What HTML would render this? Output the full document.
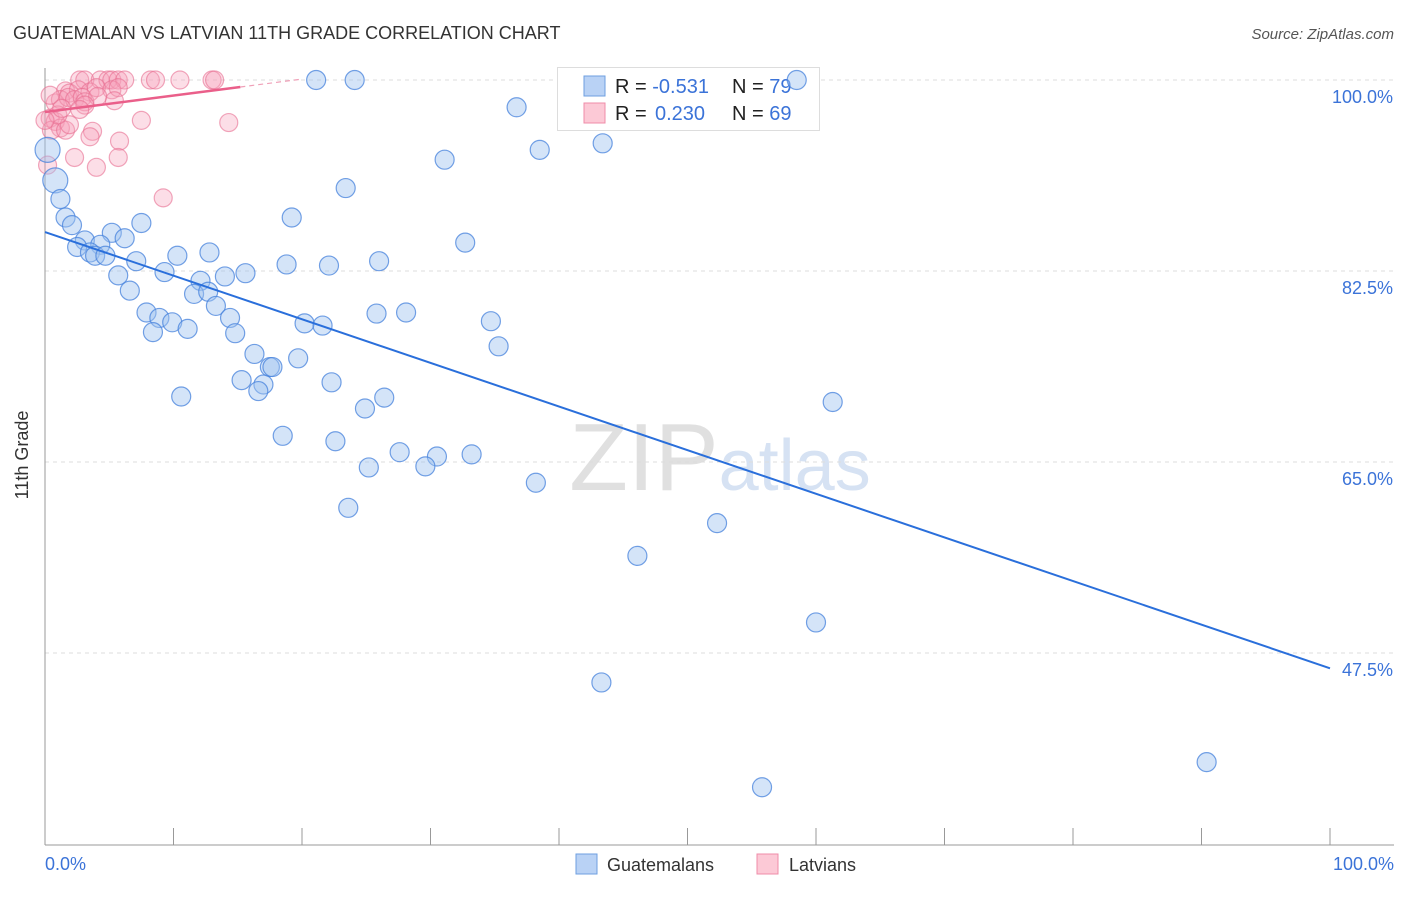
<!DOCTYPE html>
<html><head><meta charset="utf-8"><style>
body{margin:0;background:#fff;font-family:"Liberation Sans",sans-serif}
svg text{font-family:"Liberation Sans",sans-serif}
</style></head><body>
<svg id="c" width="1406" height="892" viewBox="0 0 1406 892" xmlns="http://www.w3.org/2000/svg">
<text x="13" y="39" font-size="18" fill="#333">GUATEMALAN VS LATVIAN 11TH GRADE CORRELATION CHART</text>
<text x="1394" y="39" font-size="15" fill="#555" text-anchor="end" font-style="italic">Source: ZipAtlas.com</text>
<text x="720" y="490" font-size="96" fill="#e6e6e6" text-anchor="middle" font-family="Liberation Serif"><tspan fill="#e0e0e0">ZIP</tspan><tspan fill="#d6e2f3" font-family="Liberation Sans" font-size="72">atlas</tspan></text>
<g id="grid"></g><g id="axes"></g>
<g>
<rect x="557.5" y="67.5" width="262" height="63" fill="#fff" stroke="#ddd"/>
<rect x="584" y="76" width="21" height="20" fill="#b9d2f5" stroke="#6e9fe0"/>
<text x="615" y="93" font-size="20" fill="#222">R = <tspan fill="#3b73d8">-0.531</tspan><tspan x="732">N = </tspan><tspan fill="#3b73d8">79</tspan></text>
<rect x="584" y="103" width="21" height="20" fill="#fcc9d6" stroke="#ef8ca8"/>
<text x="615" y="120" font-size="20" fill="#222">R = <tspan x="655" fill="#3b73d8">0.230</tspan><tspan x="732">N = </tspan><tspan fill="#3b73d8">69</tspan></text>
</g>
<g id="pts"></g><g id="lines"></g>
<text x="28" y="455" font-size="18" fill="#333" text-anchor="middle" transform="rotate(-90 28 455)">11th Grade</text>
<text x="45" y="870" font-size="18" fill="#3b73d8">0.0%</text>
<text x="1394" y="870" font-size="18" fill="#3b73d8" text-anchor="end">100.0%</text>
<g>
<rect x="576" y="854" width="21" height="20" fill="#b9d2f5" stroke="#6e9fe0"/>
<text x="607" y="871" font-size="18" fill="#333">Guatemalans</text>
<rect x="757" y="854" width="21" height="20" fill="#fcc9d6" stroke="#ef8ca8"/>
<text x="789" y="871" font-size="18" fill="#333">Latvians</text>
</g>
</svg>
<script>
const yTicks=[100,82.5,65,47.5];
const yTickLabels=["100.0%","82.5%","65.0%","47.5%"];
const blueX=[21.1,24.1,58.5,36.7,38.5,43.4,31.1,23.4,0.8,1.2,1.6,2.1,19.2,7.5,5.2,6.2,3.1,2.5,4.3,3.5,3.9,4.7,12.8,10.3,32.7,7.1,18.8,22.1,26.0,9.3,5.7,14.0,15.6,12.1,6.6,11.6,12.7,7.9,13.3,8.9,9.9,14.4,8.4,11.1,14.8,20.2,21.6,25.8,28.1,34.7,35.3,16.3,19.7,17.5,17.7,15.3,17.0,16.6,22.3,10.6,26.4,24.9,61.3,18.5,22.6,27.6,30.5,33.2,25.2,29.6,38.2,23.6,52.3,46.1,60.0,43.3,90.4,55.8,0.2];
const blueY=[100,100,100,97.5,93.6,94.2,92.7,90.1,90.8,89.1,87.4,86.7,87.4,86.9,86.0,85.5,85.3,84.7,84.9,84.2,83.9,83.9,84.2,83.9,85.1,83.4,83.1,83.0,83.4,82.4,82.1,82.0,82.3,81.6,80.7,80.4,80.6,78.7,79.3,78.2,77.8,78.2,76.9,77.2,76.8,77.7,77.5,78.6,78.7,77.9,75.6,74.9,74.5,73.7,73.7,72.5,72.1,71.5,72.3,71.0,70.9,69.9,70.5,67.4,66.9,65.9,65.5,65.7,64.5,64.6,63.1,60.8,59.4,56.4,50.3,44.8,37.5,35.2,93.6];
const pinkX=[2.7,3.1,4.3,4.9,5.2,5.7,6.2,8.2,8.6,10.5,13.0,13.2,1.6,1.9,2.6,3.5,4.0,5.2,5.7,0.8,1.2,1.8,2.3,2.9,3.1,5.4,4.1,0.4,0.8,1.2,0.5,1.6,1.9,1.0,1.3,3.1,2.7,7.5,3.7,3.5,5.8,5.7,2.3,4.0,14.3,9.2,0.2,0.4,0];
const pinkY=[100,100,100,100,100,100,100,100,100,100,100,100,99.0,98.8,99.1,98.9,99.3,99.1,99.3,97.9,98.2,98.4,98.2,98.4,98.0,98.1,98.5,96.5,96.2,95.6,95.4,95.4,95.9,96.8,97.4,97.7,97.3,96.3,95.3,94.8,94.4,92.9,92.9,92.0,96.1,89.2,92.2,98.6,96.3];
const blueTrend=[86.07,46.1];
const pinkTrend=[97.07,99.36];
const X0=45,X1=1330,Y100=80,PXP=10.914;
const sx=v=>X0+(X1-X0)*v/100, sy=v=>Y100+(100-v)*PXP;
const NS="http://www.w3.org/2000/svg";
function mk(t,a,p){const e=document.createElementNS(NS,t);for(const k in a)e.setAttribute(k,a[k]);p.appendChild(e);return e;}
const grid=document.getElementById('grid'),axes=document.getElementById('axes'),pts=document.getElementById('pts'),lines=document.getElementById('lines');
yTicks.forEach((v,i)=>{
 const l=mk('line',{x1:X0,x2:1394,y1:sy(v),y2:sy(v),stroke:'#ddd','stroke-dasharray':'4 4'},grid);
 
 
 const t=mk('text',{x:1393,y:sy(v)+23,'font-size':18,fill:'#3b73d8','text-anchor':'end'},axes);
 t.textContent=yTickLabels[i];
 
 
});
const ax=mk('line',{x1:X0,x2:X0,y1:68,y2:845,stroke:'#999'},axes);


const bx=mk('line',{x1:X0,x2:1394,y1:845,y2:845,stroke:'#999'},axes);


for(let i=1;i<=10;i++){const t=mk('line',{x1:sx(i*10),x2:sx(i*10),y1:828,y2:845,stroke:'#999'},axes);
 
 }
pinkX.forEach((x,i)=>{const c=mk('circle',{cx:sx(x),cy:sy(pinkY[i]),r:9,fill:'rgba(246,160,185,0.35)',stroke:'rgba(232,110,145,0.6)','stroke-width':1.2},pts);
 
 });
blueX.forEach((x,i)=>{const big=(i===8||i===78);const c=mk('circle',{cx:sx(x),cy:sy(blueY[i]),r:big?12.5:9.5,fill:'rgba(160,195,240,0.45)',stroke:'rgba(70,130,220,0.75)','stroke-width':1.2},pts);
 
 });
const bl=mk('line',{x1:sx(0),y1:sy(blueTrend[0]),x2:sx(100),y2:sy(blueTrend[1]),stroke:'#2a6fdb','stroke-width':2},lines);


const pl=mk('line',{x1:sx(0),y1:sy(pinkTrend[0]),x2:sx(15.2),y2:sy(pinkTrend[1]),stroke:'#ea5f8a','stroke-width':2.5},lines);


const slope=(pinkTrend[1]-pinkTrend[0])/15.2;
const pd=mk('line',{x1:sx(15.2),y1:sy(pinkTrend[1]),x2:sx(20),y2:sy(pinkTrend[0]+slope*20),stroke:'#f0a0b8','stroke-width':1.2,'stroke-dasharray':'5 4'},lines);


</script>
</body></html>
